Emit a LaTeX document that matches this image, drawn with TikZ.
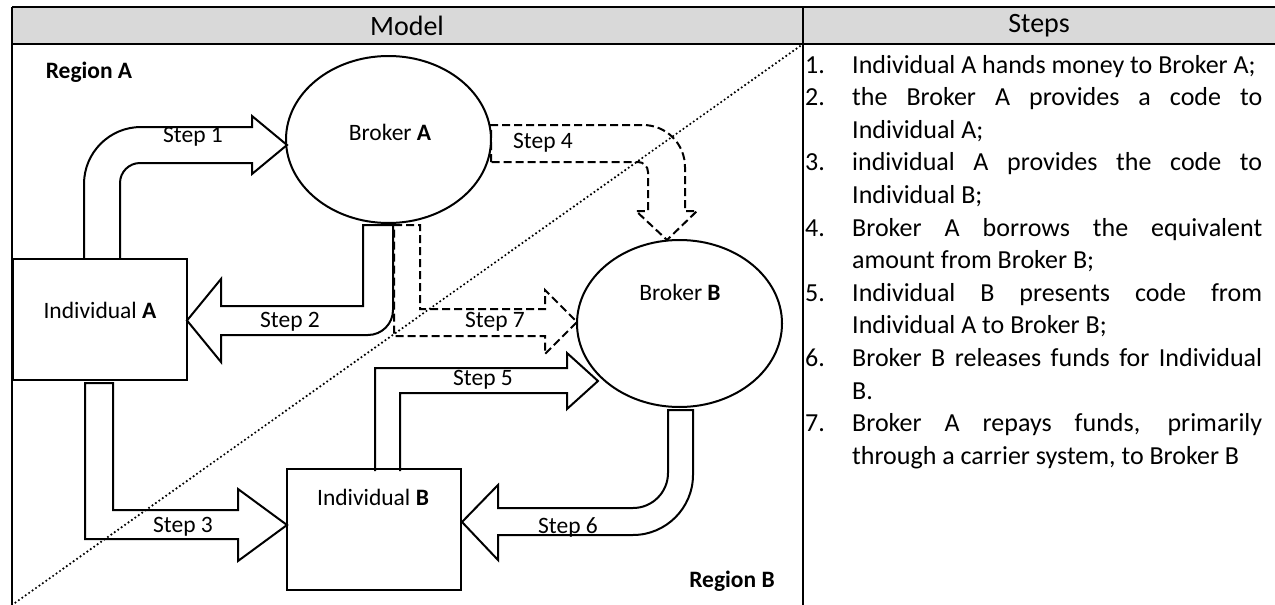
\documentclass[tikz,border=0pt]{standalone}
\usepackage{fontspec}
\setmainfont{Carlito}
\usetikzlibrary{shapes.geometric}
\definecolor{headgray}{HTML}{D9D9D9}
\newcommand{\jline}[1]{\makebox[410pt][s]{#1}}

\begin{document}
\begin{tikzpicture}[x=1pt,y=-1pt,
    tbl/.style={line width=2pt},
    party/.style={draw, line width=2pt, minimum width=174pt, minimum height=121pt, inner sep=0pt},
    broker/.style={draw, ellipse, line width=2pt, minimum width=205pt, minimum height=167pt, inner sep=0pt},
    blk/.style={draw, line width=2pt, line join=miter},
    blkd/.style={blk, dash pattern=on 8pt off 4pt},
    regionline/.style={line width=2.4pt, line cap=round, dash pattern=on 0pt off 4.2pt},
    lbl/.style={font=\fontsize{23.5}{28}\selectfont, inner sep=0pt},
    listtext/.style={font=\fontsize{26}{32}\selectfont, anchor=base west, inner sep=0pt}]
    \useasboundingbox (0,0) rectangle (1275,605);

    \fill[headgray] (12,7) rectangle (1275,44);
    \draw[tbl] (12,7) -- (1275,7);
    \draw[tbl] (12,44) -- (1275,44);
    \draw[tbl] (12,7) -- (12,605);
    \draw[tbl] (803,7) -- (803,605);
    \node[font=\fontsize{28}{32}\selectfont] (model) at (407,25.5) {Model};
    \node[font=\fontsize{28}{32}\selectfont] (steps) at (1039,25.5) {Steps};

    \node[party] (indA) at (100,319.5) {};
    \node[party] (indB) at (373.5,529.5) {};
    \node[broker] (brokerA) at (388.5,139.5) {};
    \node[broker] (brokerB) at (679.5,323.5) {};

    \node[lbl] (indAtext) at (100,310) {Individual \textbf{A}};
    \node[lbl] (indBtext) at (373,497) {Individual \textbf{B}};
    \node[lbl] (brokerAtext) at (390,132) {Broker \textbf{A}};
    \node[lbl] (brokerBtext) at (680,292) {Broker \textbf{B}};
    \node[lbl, font=\fontsize{23.5}{28}\selectfont\bfseries] (regA) at (89,72) {Region A};
    \node[lbl, font=\fontsize{23.5}{28}\selectfont\bfseries] (regB) at (732,581) {Region B};

    % step 1
    \draw[blk] (84,258) -- (84,184) .. controls (84,152.5) and (109.5,127) .. (141,127) -- (252,127) -- (252,116)
        -- (287,145) -- (252,174) -- (252,163) -- (140,163) .. controls (129,163) and (120,172) .. (120,183) -- (120,258);
    % step 2
    \draw[blk] (363,225) -- (393,225) -- (393,310) .. controls (393,323.8) and (381.8,335) .. (368,335) -- (221,335)
        -- (221,362) -- (187,320.5) -- (221,279) -- (221,306) -- (363,306) -- cycle;
    % step 3
    \draw[blk] (85,383) -- (113,383) -- (113,510) -- (238,510) -- (238,489) -- (287,525) -- (238,561) -- (238,539)
        -- (85,539) -- cycle;
    % step 4
    \draw[blkd] (491,162) -- (491,125) -- (643,125) .. controls (666.2,125) and (685,143.8) .. (685,167) -- (685,211)
        -- (697,211) -- (667,240) -- (636,211) -- (648,211) -- (648,172) .. controls (648,166.5) and (643.5,162) .. (638,162) -- cycle;
    % step 5
    \draw[blk] (375,471) -- (375,368) -- (567,368) -- (567,353) -- (598,381) -- (567,409) -- (567,393) -- (400,393) -- (400,471);
    % step 6
    \draw[blk] (668,410) -- (693,410) -- (693,475) .. controls (693,508) and (666,535) .. (633,535) -- (498,535) -- (498,560)
        -- (462,522) -- (498,485) -- (498,508) -- (633,508) .. controls (652.3,508) and (668,492.3) .. (668,473) -- cycle;
    % step 7
    \draw[blkd] (394,225) -- (420,225) -- (420,309) -- (545,309) -- (545,290) -- (577,322) -- (545,354) -- (545,336)
        -- (394,336) -- cycle;

    \foreach \n/\x/\y in {1/193/137, 2/290/322, 3/183/527, 4/543/143, 5/483/380, 6/568/527, 7/495/322}
        \node[lbl] (step\n) at (\x,\y) {Step \n};

    \draw[regionline] (12,605) -- (803,44);

    \foreach \i/\n in {0/1, 1/2, 3/3, 5/4, 7/5, 9/6, 11/7}
        \node[listtext] (num\n) at (805,{73+32.6*\i}) {\n.};
    \foreach \i/\txt in {
        0/{Individual A hands money to Broker A;},
        1/{\jline{the Broker A provides a code to}},
        2/{Individual A;},
        3/{\jline{individual A provides the code to}},
        4/{Individual B;},
        5/{\jline{Broker A borrows the equivalent}},
        6/{amount from Broker B;},
        7/{\jline{Individual B presents code from}},
        8/{Individual A to Broker B;},
        9/{\jline{Broker B releases funds for Individual}},
        10/{B.},
        11/{\jline{Broker A repays funds, primarily}},
        12/{through a carrier system, to Broker B}}
        \node[listtext] (line\i) at (852,{73+32.6*\i}) {\txt};
\end{tikzpicture}
\end{document}
